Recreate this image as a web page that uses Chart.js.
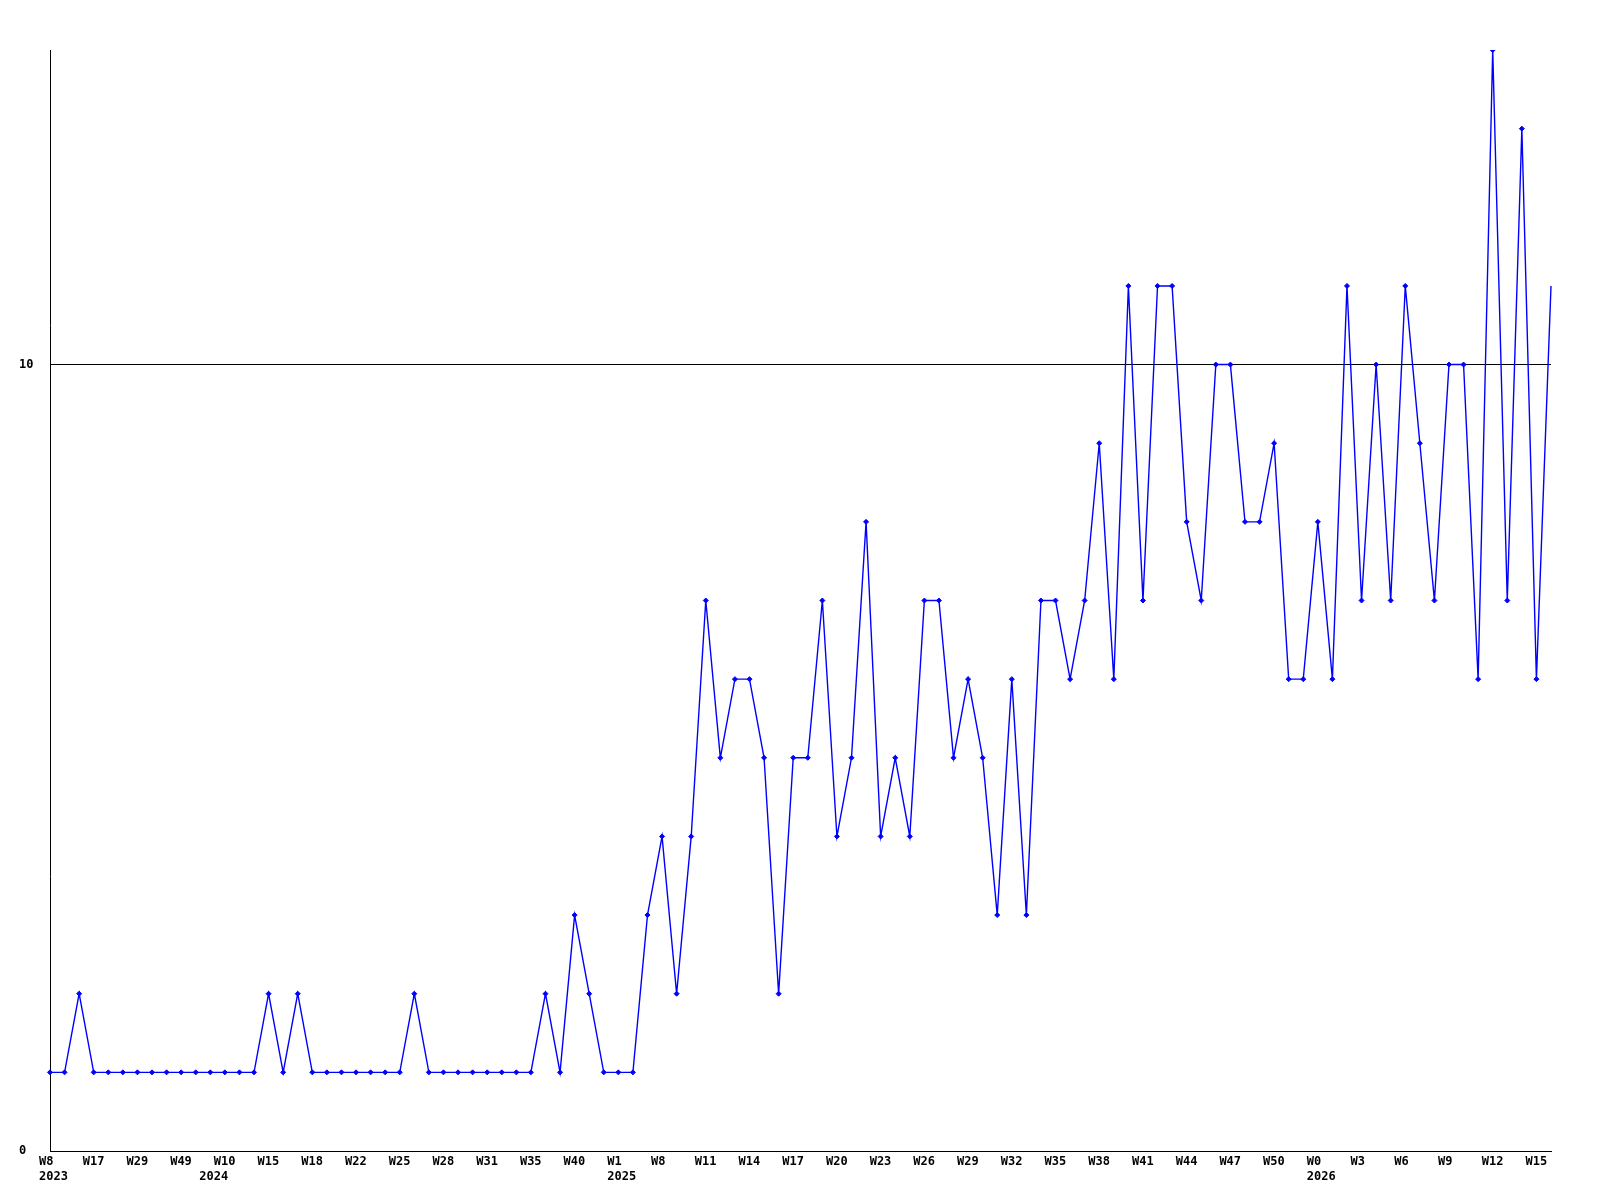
<!DOCTYPE html>
<html>
<head>
<meta charset="utf-8">
<title>Weekly count</title>
<script src="https://cdn.jsdelivr.net/npm/chart.js@4/dist/chart.umd.min.js"></script>
<style>
  html, body { margin: 0; padding: 0; background: #fff; }
  canvas { display: block; }
</style>
</head>
<body>
<canvas id="chartCanvas" width="1600" height="1200"></canvas>
<script>
// Data
const weekTicks = ["W8", "W17", "W29", "W49", "W10", "W15", "W18", "W22", "W25", "W28",
  "W31", "W35", "W40", "W1", "W8", "W11", "W14", "W17", "W20", "W23",
  "W26", "W29", "W32", "W35", "W38", "W41", "W44", "W47", "W50", "W0",
  "W3", "W6", "W9", "W12", "W15"];
const yearStarts = [0, 11, 39, 87];
const yearLabels = ["2023", "2024", "2025", "2026"];
const counts = [
  1, 1, 2, 1, 1, 1, 1, 1, 1, 1,
  1, 1, 1, 1, 1, 2, 1, 2, 1, 1,
  1, 1, 1, 1, 1, 2, 1, 1, 1, 1,
  1, 1, 1, 1, 2, 1, 3, 2, 1, 1,
  1, 3, 4, 2, 4, 7, 5, 6, 6, 5,
  2, 5, 5, 7, 4, 5, 8, 4, 5, 4,
  7, 7, 5, 6, 5, 3, 6, 3, 7, 7,
  6, 7, 9, 6, 11, 7, 11, 11, 8, 7,
  10, 10, 8, 8, 9, 6, 6, 8, 6, 11,
  7, 10, 7, 11, 9, 7, 10, 10, 6, 14,
  7, 13, 6, 11
];
const yTicks = [0, 10];
const yMax = 14;
const tickEvery = 3;

// Labels for each point (week label every 3rd point, year on 2nd line)
const categories = counts.map((_, i) => {
  const week = i % tickEvery === 0 ? (weekTicks[i / tickEvery] || "") : "";
  const y = yearStarts.indexOf(i);
  return y >= 0 ? [week, yearLabels[y]] : week;
});

const tickFont = { family: "'DejaVu Sans Mono', monospace", size: 12, weight: "bold", lineHeight: 1.21 };
const lastIndex = counts.length - 1;

const ctx = document.getElementById("chartCanvas").getContext("2d");
const chart = new Chart(ctx, {
  type: "line",
  data: {
    labels: categories,
    datasets: [{
      data: counts,
      borderColor: "#0000ff",
      backgroundColor: "#0000ff",
      borderWidth: 1.4,
      tension: 0,
      fill: false,
      pointStyle: "rectRot",
      pointRadius: c => (c.dataIndex === lastIndex ? 0 : 2.5),
      pointBorderWidth: 1,
      pointBackgroundColor: "#0000ff",
      pointBorderColor: "#0000ff"
    }]
  },
  options: {
    responsive: false,
    animation: false,
    devicePixelRatio: 1,
    layout: { padding: { left: 19, right: 49, top: 50, bottom: 0 } },
    plugins: {
      legend: { display: false },
      tooltip: { enabled: false }
    },
    scales: {
      x: {
        type: "category",
        offset: false,
        grid: { display: true, drawOnChartArea: false, drawTicks: false },
        border: { display: true, color: "#000", width: 1 },
        ticks: {
          autoSkip: false,
          maxRotation: 0,
          minRotation: 0,
          align: "start",
          labelOffset: -11,
          padding: 4,
          color: "#000",
          font: tickFont,
          callback: function (value, index) {
            return categories[index];
          }
        },
        afterFit: scale => { scale.height = 49; }
      },
      y: {
        min: 0,
        max: yMax,
        grid: { color: "#000", lineWidth: 1, drawTicks: false },
        border: { display: true, color: "#000", width: 1 },
        ticks: {
          crossAlign: "far",
          padding: 0,
          color: "#000",
          font: tickFont
        },
        afterBuildTicks: scale => { scale.ticks = yTicks.map(v => ({ value: v })); },
        afterFit: scale => { scale.width = 31; }
      }
    }
  }
});
</script>
</body>
</html>
